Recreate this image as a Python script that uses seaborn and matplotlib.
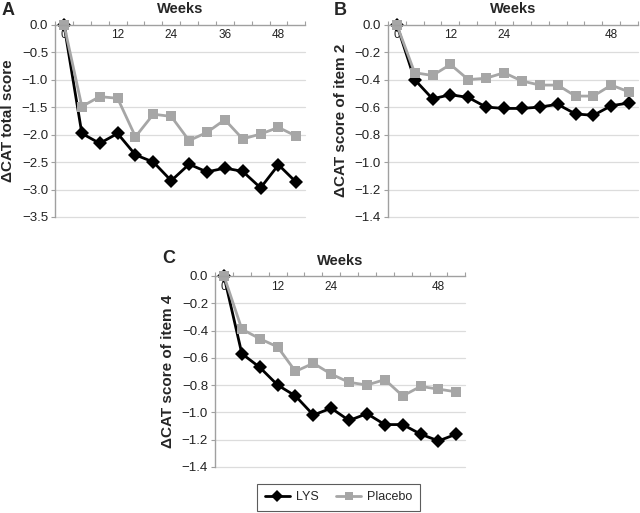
import numpy as np
import pandas as pd
import matplotlib
matplotlib.use("Agg")
import matplotlib.pyplot as plt
import seaborn as sns
from matplotlib.ticker import FixedLocator

# data (change in CAT score, every 4 weeks)
weeks = [0, 4, 8, 12, 16, 20, 24, 28, 32, 36, 40, 44, 48, 52]

lys_total = [0, -1.98, -2.16, -1.98, -2.37, -2.50, -2.84, -2.54, -2.68, -2.61, -2.67, -2.97, -2.55, -2.87]
pla_total = [0, -1.49, -1.31, -1.34, -2.04, -1.63, -1.67, -2.11, -1.96, -1.73, -2.08, -1.99, -1.87, -2.03]

lys_item2 = [0, -0.40, -0.54, -0.51, -0.53, -0.60, -0.61, -0.61, -0.60, -0.58, -0.65, -0.66, -0.59, -0.57]
pla_item2 = [0, -0.35, -0.37, -0.29, -0.40, -0.39, -0.35, -0.41, -0.44, -0.44, -0.52, -0.52, -0.44, -0.49]

lys_item4 = [0, -0.57, -0.67, -0.80, -0.88, -1.02, -0.97, -1.06, -1.01, -1.09, -1.09, -1.16, -1.21, -1.16]
pla_item4 = [0, -0.39, -0.46, -0.52, -0.70, -0.64, -0.72, -0.78, -0.80, -0.76, -0.88, -0.81, -0.83, -0.85]

sns.set_style("white")
plt.rcParams['font.family'] = ['Liberation Sans', 'DejaVu Sans']

black = "#000000"
grey = "#a6a6a6"
axis_grey = "#a0a0a0"
grid_grey = "#dcdcdc"

fig = plt.figure(figsize=(6.4, 5.13), dpi=100)

ax_a = fig.add_axes([0.086, 0.577, 0.391, 0.375])
ax_b = fig.add_axes([0.606, 0.577, 0.391, 0.375])
ax_c = fig.add_axes([0.336, 0.090, 0.391, 0.372])

panels = [
    (ax_a, lys_total, pla_total, "\u0394CAT total score", -3.5, 0.5, [0, 12, 24, 36, 48]),
    (ax_b, lys_item2, pla_item2, "\u0394CAT score of item 2", -1.4, 0.2, [0, 12, 24, 48]),
    (ax_c, lys_item4, pla_item4, "\u0394CAT score of item 4", -1.4, 0.2, [0, 12, 24, 48]),
]

for ax, lys, pla, ylab, ymin, ystep, xlabels in panels:
    df = pd.DataFrame({
        "week": weeks + weeks,
        "score": lys + pla,
        "group": ["LYS"] * len(weeks) + ["Placebo"] * len(weeks),
    })
    sns.lineplot(data=df, x="week", y="score", hue="group", style="group",
                 markers={"LYS": "D", "Placebo": "s"}, dashes=False,
                 palette={"LYS": black, "Placebo": grey},
                 markersize=7, linewidth=2, markeredgewidth=0,
                 legend=False, ax=ax)

    ax.set_xlim(-2, 54)
    ax.set_ylim(ymin, 0)

    # category-style x axis on top, labels inside the plot area
    ax.xaxis.tick_top()
    ax.xaxis.set_major_locator(FixedLocator(xlabels))
    ax.xaxis.set_minor_locator(FixedLocator(np.arange(-2, 55, 4)))
    ax.tick_params(axis="x", which="major", length=0, pad=-12, labelsize=8.5,
                   labelcolor="#222222")
    ax.tick_params(axis="x", which="minor", length=3, width=0.8, color=axis_grey,
                   direction="out", top=True, bottom=False)

    yt = np.round(np.arange(ymin, 0.001, ystep), 2)
    ax.set_yticks(yt)
    ax.set_yticklabels([f"{abs(v):.1f}" if abs(v) < 1e-9 else f"{v:.1f}".replace("-", "\u2212")
                        for v in yt])
    ax.tick_params(axis="y", length=3, width=0.8, color=axis_grey, direction="out",
                   labelsize=9.5, labelcolor="#222222", pad=2, left=True)

    for v in yt[:-1]:
        ax.axhline(v, color=grid_grey, linewidth=0.9, zorder=0)

    for side in ["right", "bottom"]:
        ax.spines[side].set_visible(False)
    for side in ["left", "top"]:
        ax.spines[side].set_color(axis_grey)
        ax.spines[side].set_linewidth(1)

    ax.set_xlabel("")
    ax.set_ylabel(ylab, fontsize=11, fontweight="bold", labelpad=5)
    ax.annotate("Weeks", xy=(0.5, 1), xycoords="axes fraction", xytext=(0, 6),
                textcoords="offset points", ha="center", va="bottom",
                fontsize=10.5, fontweight="bold")
    for line in ax.lines:
        line.set_clip_on(False)

fig.text(0.002, 0.980, "A", fontsize=13, fontweight="bold", ha="left", va="center")
fig.text(0.522, 0.980, "B", fontsize=13, fontweight="bold", ha="left", va="center")
fig.text(0.253, 0.496, "C", fontsize=13, fontweight="bold", ha="left", va="center")

handles = [
    plt.Line2D([], [], color=black, marker="D", markersize=6, markeredgewidth=0, linewidth=2),
    plt.Line2D([], [], color=grey, marker="s", markersize=6, markeredgewidth=0, linewidth=2),
]
leg = fig.legend(handles, ["LYS", "Placebo"], loc="center", bbox_to_anchor=(0.529, 0.031),
                 ncol=2, frameon=True, fancybox=False, fontsize=9, handlelength=2.0,
                 columnspacing=1.4, borderpad=0.6, handletextpad=0.5)
leg.get_frame().set_edgecolor("#333333")
leg.get_frame().set_linewidth(0.8)

fig.savefig("out.png", dpi=100)
